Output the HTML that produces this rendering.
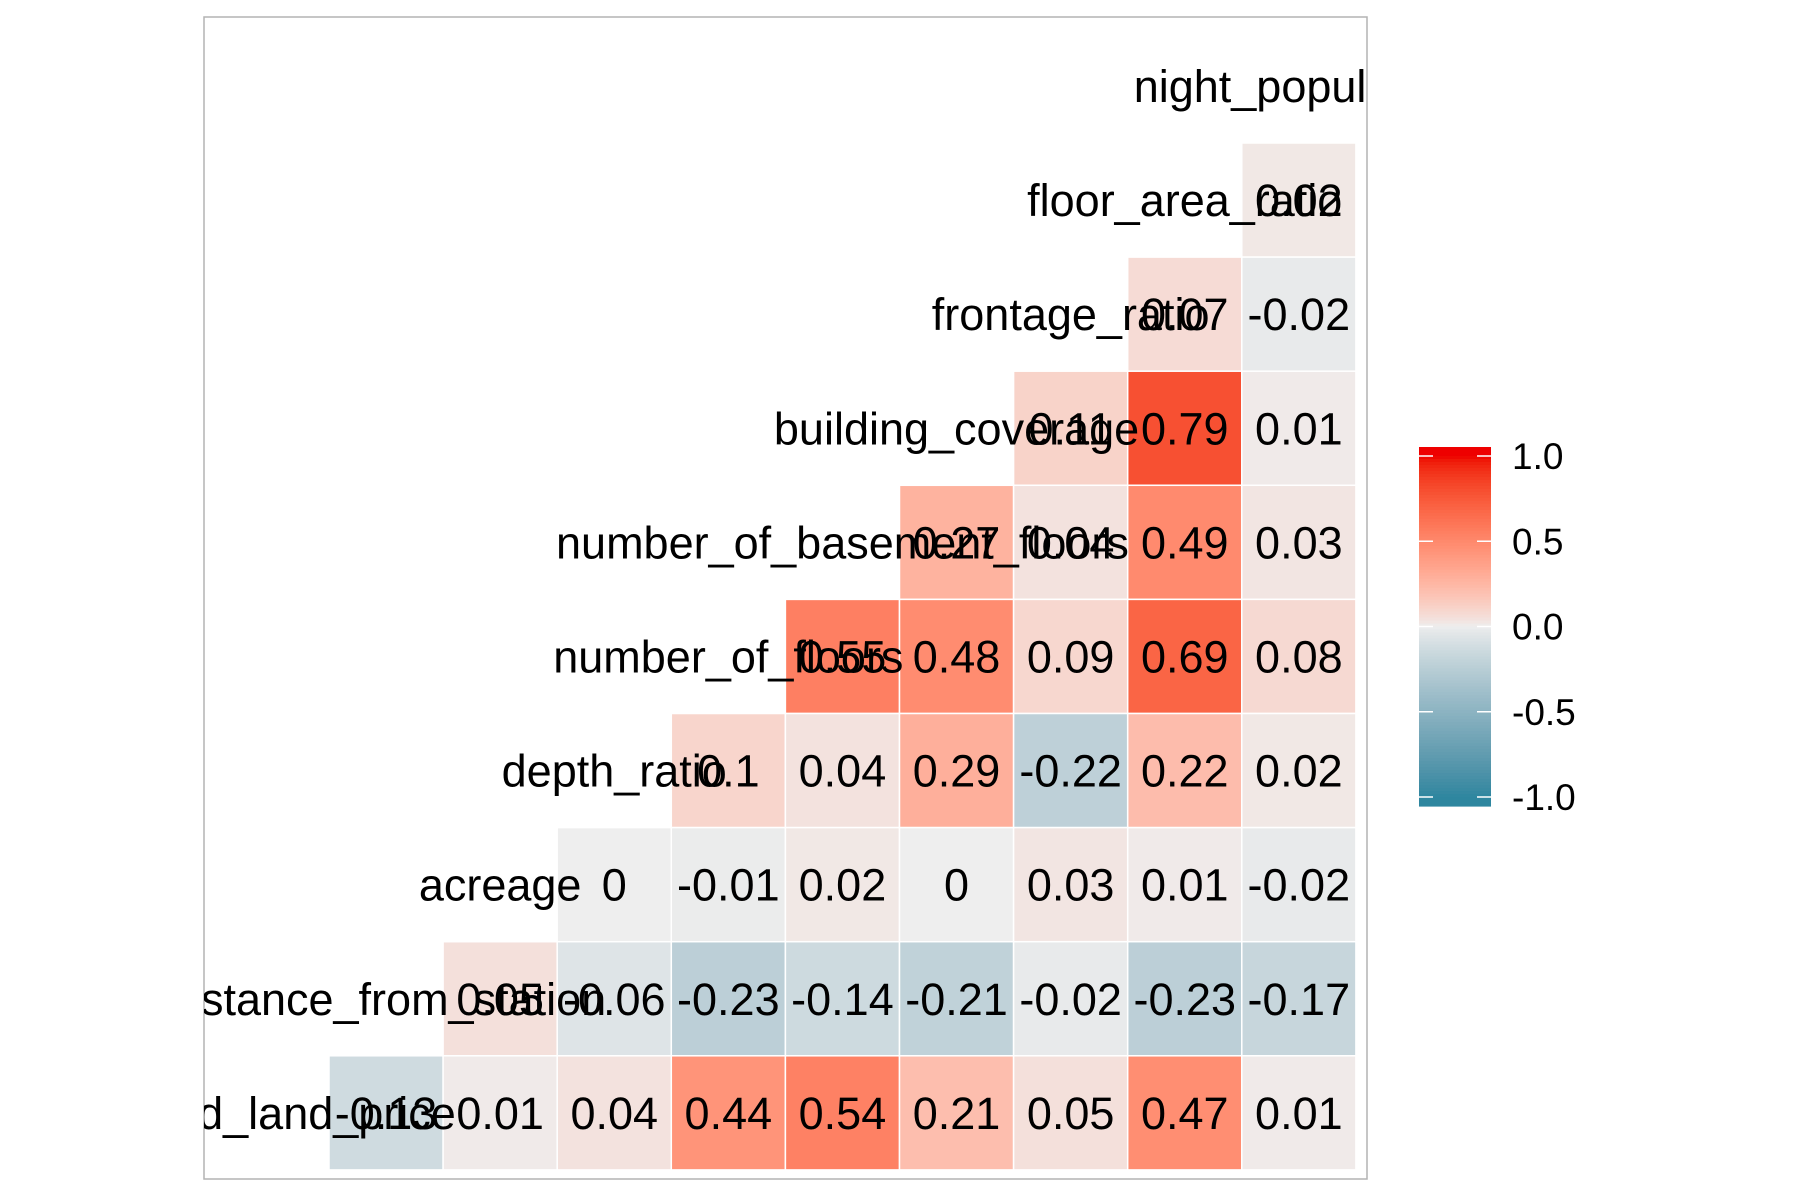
<!DOCTYPE html>
<html><head><meta charset="utf-8"><style>html,body{margin:0;padding:0;background:#fff}svg{display:block}text{font-family:"Liberation Sans",Arial,sans-serif}</style></head>
<body>
<svg id="chart" width="1800" height="1200" viewBox="0 0 1800 1200">
<defs><clipPath id="panelClip"><rect x="204" y="17" width="1163" height="1162"/></clipPath></defs>
<rect x="204" y="17" width="1163" height="1162" fill="#fff" stroke="#b3b3b3" stroke-width="1.5"/>
<g id="tiles" clip-path="url(#panelClip)"></g>
<g id="legend"></g>
</svg>
<script>
const variables = ["night_population","floor_area_ratio","frontage_ratio","building_coverage","number_of_basement_floors","number_of_floors","depth_ratio","acreage","distance_from_station","posted_land_price"];
const row1 = [0.02];
const row2 = [0.07,-0.02];
const row3 = [0.11,0.79,0.01];
const row4 = [0.27,0.04,0.49,0.03];
const row5 = [0.55,0.48,0.09,0.69,0.08];
const row6 = [0.1,0.04,0.29,-0.22,0.22,0.02];
const row7 = [0,-0.01,0.02,0,0.03,0.01,-0.02];
const row8 = [0.05,-0.06,-0.23,-0.14,-0.21,-0.02,-0.23,-0.17];
const row9 = [-0.13,0.01,0.04,0.44,0.54,0.21,0.05,0.47,0.01];
const legendTicks = [1.0,0.5,0.0,-0.5,-1.0];
const legendTickLabels = ["1.0","0.5","0.0","-0.5","-1.0"];

const NS="http://www.w3.org/2000/svg";
const rows=[row1,row2,row3,row4,row5,row6,row7,row8,row9];
const X0=329, CW=114.1, Y0=143, RH=114.1;
const xCol=c=>X0+c*CW;
const yRow=r=>Y0+r*RH;

function hex2rgb(h){return [1,3,5].map(i=>parseInt(h.substr(i,2),16));}
function toLin(c){c/=255;return c<=0.04045?c/12.92:Math.pow((c+0.055)/1.055,2.4);}
function fromLin(c){c=c<=0.0031308?12.92*c:1.055*Math.pow(c,1/2.4)-0.055;return Math.max(0,Math.min(255,Math.round(c*255)));}
function rgb2lab(rgb){const [r,g,b]=rgb.map(toLin);
 let x=(r*0.4124+g*0.3576+b*0.1805)/0.95047,y=(r*0.2126+g*0.7152+b*0.0722),z=(r*0.0193+g*0.1192+b*0.9505)/1.08883;
 const f=t=>t>0.008856?Math.cbrt(t):7.787*t+16/116;
 const fx=f(x),fy=f(y),fz=f(z);return [116*fy-16,500*(fx-fy),200*(fy-fz)];}
function lab2rgb(l){const fy=(l[0]+16)/116,fx=fy+l[1]/500,fz=fy-l[2]/200;
 const fi=t=>t*t*t>0.008856?t*t*t:(t-16/116)/7.787;
 const x=fi(fx)*0.95047,y=fi(fy),z=fi(fz)*1.08883;
 const r=x*3.2406+y*-1.5372+z*-0.4986,g=x*-0.9689+y*1.8758+z*0.0415,b=x*0.0557+y*-0.2040+z*1.0570;
 return [r,g,b].map(fromLin);}
const LOW=rgb2lab(hex2rgb("#2E869F")),MID=rgb2lab(hex2rgb("#EEEEEE")),HIGH=rgb2lab(hex2rgb("#EE0000"));
function color(v){const a=v>=0?HIGH:LOW,t=Math.pow(Math.abs(v),0.85);
 const l=MID.map((m,i)=>m+(a[i]-m)*t);const c=lab2rgb(l);return "rgb("+c.join(",")+")";}

const tiles=document.getElementById("tiles");
rows.forEach((vals,r)=>{
 const start=9-vals.length;
 vals.forEach((v,k)=>{
  const c=start+k;
  const rect=document.createElementNS(NS,"rect");
  rect.setAttribute("x",xCol(c));rect.setAttribute("y",yRow(r));
  rect.setAttribute("width",CW);rect.setAttribute("height",RH);
  rect.setAttribute("fill",color(v));rect.setAttribute("stroke","#fff");rect.setAttribute("stroke-width","1.5");
  
  
  tiles.appendChild(rect);
 });
});
// diagonal labels
variables.forEach((name,i)=>{
 const c=8-i, r=i-1;
 const t=document.createElementNS(NS,"text");
 t.textContent=name;t.setAttribute("font-size","45");t.setAttribute("fill","#000");
 t.setAttribute("text-anchor","middle");
 t.setAttribute("x",xCol(c)+CW/2);
 t.setAttribute("y",yRow(r)+RH/2+16);
 
 
 tiles.appendChild(t);
});
// values
rows.forEach((vals,r)=>{
 const start=9-vals.length;
 vals.forEach((v,k)=>{
  const c=start+k;
  const t=document.createElementNS(NS,"text");
  t.textContent=String(v);t.setAttribute("font-size","45");t.setAttribute("text-anchor","middle");
  t.setAttribute("x",xCol(c)+CW/2);t.setAttribute("y",yRow(r)+RH/2+16);
  
  
  tiles.appendChild(t);
 });
});
// legend
const lg=document.getElementById("legend");
const LX=1419,LW=72,LT=447,LB=806,T1=456,Tm1=797;
const ly=v=>T1+(1-v)/2*(Tm1-T1);
const N=120;
for(let i=0;i<N;i++){
 const y=LT+(LB-LT)*i/N;const yc=y+(LB-LT)/N/2;
 const v=Math.max(-1,Math.min(1,1-(yc-T1)/(Tm1-T1)*2));
 const r=document.createElementNS(NS,"rect");
 r.setAttribute("x",LX);r.setAttribute("y",y);r.setAttribute("width",LW);r.setAttribute("height",(LB-LT)/N+0.6);
 r.setAttribute("fill",color(v));
 
 
 lg.appendChild(r);
}
legendTicks.forEach((v,i)=>{
 const y=ly(v);
 [[LX,LX+14],[LX+LW-14,LX+LW]].forEach(p=>{
  const l=document.createElementNS(NS,"line");
  l.setAttribute("x1",p[0]);l.setAttribute("x2",p[1]);l.setAttribute("y1",y);l.setAttribute("y2",y);
  l.setAttribute("stroke","#fff");l.setAttribute("stroke-width","1.5");
  
  
  lg.appendChild(l);
 });
 const t=document.createElementNS(NS,"text");
 t.textContent=legendTickLabels[i];t.setAttribute("font-size","37");
 t.setAttribute("x",1512);t.setAttribute("y",y+13);
 
 
 lg.appendChild(t);
});
</script>
</body></html>
